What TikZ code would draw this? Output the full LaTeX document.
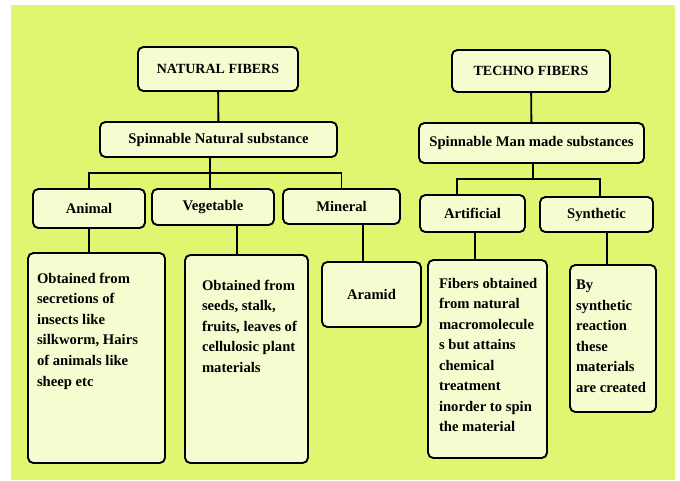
\documentclass[tikz,border=0pt]{standalone}
\usepackage{fontspec}
\setmainfont{Liberation Serif}
\definecolor{bgyel}{RGB}{226,245,112}
\definecolor{boxyel}{RGB}{246,252,208}
\newcommand{\fibtext}[4]{\parbox[c][#2][t]{#1}{\raggedright\leftskip=#3\relax #4}}

\begin{document}
\begin{tikzpicture}[x=0.75pt,y=-0.75pt,
        fib/.style={draw,line width=1.4pt,rounded corners=4pt,fill=boxyel,inner sep=0pt,
            font=\bfseries\fontsize{11}{15.4}\selectfont},
        link/.style={line width=1.4pt}]
        \useasboundingbox (0,0) rectangle (680,480);
        \fill[bgyel] (11,5) rectangle (675,480);
        % natural side
        \node[fib,minimum width=120pt,minimum height=33pt,font=\bfseries\fontsize{10.5}{13}\selectfont] (NatF) at (218,69) {NATURAL FIBERS};
        \node[fib,minimum width=177.75pt,minimum height=26.25pt] (NatS) at (218.5,139.5) {Spinnable Natural substance};
        \node[fib,minimum width=84pt,minimum height=29.25pt] (Ani) at (89,208.5) {Animal};
        \node[fib,minimum width=91.5pt,minimum height=27pt] (Veg) at (213,207) {Vegetable};
        \node[fib,minimum width=87.75pt,minimum height=26.25pt] (Min) at (341.5,206.5) {Mineral};
        \node[fib,inner ysep=15pt] (AniT) at (96.5,358)
            {\fibtext{102.75pt}{127.5pt}{6.75pt}{Obtained from\\ secretions of\\ insects like\\ silkworm, Hairs\\ of animals like\\ sheep etc}};
        \node[fib,inner ysep=18.75pt] (VegT) at (246.5,359)
            {\fibtext{92.25pt}{118.5pt}{12.75pt}{Obtained from\\ seeds, stalk,\\ fruits, leaves of\\ cellulosic plant\\ materials}};
        \node[fib,minimum width=74.25pt,minimum height=48.75pt] (Ara) at (371.5,294.5) {Aramid};
        % techno side
        \node[fib,minimum width=118.5pt,minimum height=31.5pt,font=\bfseries\fontsize{10.5}{13}\selectfont] (TecF) at (531,71) {TECHNO FIBERS};
        \node[fib,minimum width=168.75pt,minimum height=30pt] (TecS) at (531.5,143) {Spinnable Man made substances};
        \node[fib,minimum width=78.75pt,minimum height=27.75pt] (Art) at (472.5,213.5) {Artificial};
        \node[fib,minimum width=84.75pt,minimum height=26.25pt] (Syn) at (596.5,214.5) {Synthetic};
        \node[fib,inner ysep=13.5pt] (ArtT) at (487.5,359)
            {\fibtext{89.25pt}{121.5pt}{8.25pt}{Fibers obtained\\ from natural\\ macromolecule\\ s but attains\\ chemical\\ treatment\\ inorder to spin\\ the material}};
        \node[fib,inner ysep=11.25pt] (SynT) at (613,338.5)
            {\fibtext{64.5pt}{87.75pt}{4.5pt}{By\\ synthetic\\ reaction\\ these\\ materials\\ are created}};
        % connectors
        \coordinate (NatBus) at (210,173);
        \coordinate (VegDrop) at (237,225);
        \coordinate (MinDrop) at (363,224);
        \coordinate (TecBus) at (533,179);
        \coordinate (ArtUp) at (457,195);
        \coordinate (SynUp) at (600,197);
        \coordinate (ArtDrop) at (475,232);
        \coordinate (SynDrop) at (607,232);
        \draw[link] (NatF) -- (NatS);
        \draw[link] (NatS.south -| NatBus) -- (NatBus);
        \draw[link] (Ani.north) |- (NatBus) -| (Min.north);
        \draw[link] (NatBus) -- (Veg.north -| NatBus);
        \draw[link] (Ani.south) -- (Ani.south |- AniT.north);
        \draw[link] (VegDrop) -- (VegDrop |- VegT.north);
        \draw[link] (MinDrop) -- (MinDrop |- Ara.north);
        \draw[link] (TecF) -- (TecS);
        \draw[link] (TecS.south -| TecBus) -- (TecBus);
        \draw[link] (ArtUp) |- (TecBus) -| (SynUp);
        \draw[link] (ArtDrop) -- (ArtDrop |- ArtT.north);
        \draw[link] (SynDrop) -- (SynDrop |- SynT.north);
\end{tikzpicture}
\end{document}
